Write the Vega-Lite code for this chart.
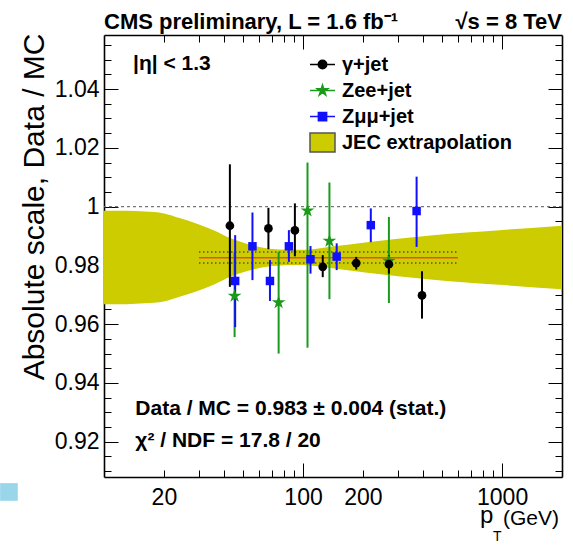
{
  "$schema": "https://vega.github.io/schema/vega-lite/v6.json",
  "width": 458,
  "height": 442,
  "autosize": {"type": "none"},
  "padding": {"left": 104, "top": 35, "right": 11, "bottom": 69},
  "background": "white",
  "config": {
    "view": {"stroke": null},
    "font": "Liberation Sans",
    "axis": {"grid": false, "domain": false, "labelFont": "Liberation Sans", "labelFontSize": 23, "labelColor": "#000", "tickColor": "#000", "tickWidth": 1, "titleColor": "#000", "zindex": 1, "labelOverlap": false, "labelFlush": false, "domainColor": "#000", "domainWidth": 1.6}
  },
  "datasets": {
    "pts": [
      {"series": "Zee+jet", "pt": 45.3, "v": 0.9696, "lo": 0.9556, "hi": 0.9846},
      {"series": "Zee+jet", "pt": 75.4, "v": 0.9674, "lo": 0.95, "hi": 0.9846},
      {"series": "Zee+jet", "pt": 105.3, "v": 0.9986, "lo": 0.952, "hi": 1.015},
      {"series": "Zee+jet", "pt": 135.7, "v": 0.9883, "lo": 0.9685, "hi": 1.0082},
      {"series": "Zee+jet", "pt": 270, "v": 0.9815, "lo": 0.9672, "hi": 0.9965},
      {"series": "Zμμ+jet", "pt": 45.6, "v": 0.9747, "lo": 0.959, "hi": 0.9903},
      {"series": "Zμμ+jet", "pt": 55.7, "v": 0.9865, "lo": 0.975, "hi": 0.998},
      {"series": "Zμμ+jet", "pt": 68.2, "v": 0.9747, "lo": 0.9679, "hi": 0.9818},
      {"series": "Zμμ+jet", "pt": 84.9, "v": 0.9865, "lo": 0.9812, "hi": 0.992},
      {"series": "Zμμ+jet", "pt": 109, "v": 0.9821, "lo": 0.9772, "hi": 0.9866},
      {"series": "Zμμ+jet", "pt": 147.6, "v": 0.983, "lo": 0.9784, "hi": 0.9875},
      {"series": "Zμμ+jet", "pt": 219, "v": 0.9937, "lo": 0.9879, "hi": 0.9994},
      {"series": "Zμμ+jet", "pt": 372, "v": 0.9985, "lo": 0.9863, "hi": 1.0102},
      {"series": "γ+jet", "pt": 42.9, "v": 0.9935, "lo": 0.9727, "hi": 1.0144},
      {"series": "γ+jet", "pt": 67, "v": 0.9926, "lo": 0.9855, "hi": 0.9996},
      {"series": "γ+jet", "pt": 91, "v": 0.9919, "lo": 0.9831, "hi": 1.0011},
      {"series": "γ+jet", "pt": 125.6, "v": 0.9795, "lo": 0.976, "hi": 0.9835},
      {"series": "γ+jet", "pt": 185, "v": 0.9808, "lo": 0.9786, "hi": 0.9829},
      {"series": "γ+jet", "pt": 270, "v": 0.9804, "lo": 0.9772, "hi": 0.9835},
      {"series": "γ+jet", "pt": 396, "v": 0.9698, "lo": 0.9619, "hi": 0.978}
    ],
    "band": [
      {"pt": 10, "lo": 0.9668, "hi": 0.9986},
      {"pt": 13, "lo": 0.9668, "hi": 0.9986},
      {"pt": 16, "lo": 0.9671, "hi": 0.9983},
      {"pt": 20, "lo": 0.9677, "hi": 0.9977},
      {"pt": 24, "lo": 0.9693, "hi": 0.9961},
      {"pt": 30, "lo": 0.9715, "hi": 0.9939},
      {"pt": 36, "lo": 0.9736, "hi": 0.9918},
      {"pt": 43, "lo": 0.9761, "hi": 0.9893},
      {"pt": 52, "lo": 0.978, "hi": 0.9874},
      {"pt": 63, "lo": 0.9794, "hi": 0.986},
      {"pt": 77, "lo": 0.98, "hi": 0.9854},
      {"pt": 95, "lo": 0.9801, "hi": 0.9853},
      {"pt": 115, "lo": 0.9798, "hi": 0.9856},
      {"pt": 140, "lo": 0.979, "hi": 0.9864},
      {"pt": 210, "lo": 0.9775, "hi": 0.9879},
      {"pt": 300, "lo": 0.9763, "hi": 0.9891},
      {"pt": 450, "lo": 0.9751, "hi": 0.9903},
      {"pt": 660, "lo": 0.9742, "hi": 0.9912},
      {"pt": 970, "lo": 0.9734, "hi": 0.992},
      {"pt": 2000, "lo": 0.9719, "hi": 0.9935}
    ]
  },
  "resolve": {"axis": {"x": "independent", "y": "independent"}},
  "layer": [
    {
      "data": {"name": "band"},
      "mark": {"type": "area", "color": "#cccc00", "interpolate": "monotone", "opacity": 1},
      "encoding": {
        "x": {"field": "pt", "type": "quantitative", "scale": {"type": "log", "domain": [10, 2000], "nice": false},
          "axis": {"orient": "bottom", "values": [20, 100, 200, 1000], "ticks": false, "labelPadding": 9, "title": null, "format": "d"}},
        "y": {"field": "lo", "type": "quantitative", "scale": {"domain": [0.908, 1.0584], "nice": false, "zero": false},
          "axis": {"orient": "left", "values": [0.92, 0.94, 0.96, 0.98, 1.0, 1.02, 1.04], "ticks": false, "labelPadding": 5,
            "labelExpr": "format(datum.value, '.2f') === '1.00' ? '1' : format(datum.value, '.2f')",
            "title": "Absolute scale, Data / MC", "titleFontSize": 30, "titleFontWeight": "normal", "titleFont": "Liberation Sans",
            "titleAngle": -90, "titleAlign": "right", "titleBaseline": "alphabetic", "titleX": -61, "titleY": -2}},
        "y2": {"field": "hi"}
      }
    },
    {
      "data": {"values": [{"v": 1}]},
      "mark": {"type": "rule", "color": "#777", "strokeDash": [3, 3], "strokeWidth": 1.2},
      "encoding": {"y": {"field": "v", "type": "quantitative", "axis": null}}
    },
    {
      "data": {"values": [{"a": 30, "b": 600, "v": 0.9846}, {"a": 30, "b": 600, "v": 0.9808}]},
      "mark": {"type": "rule", "color": "#55553a", "strokeDash": [1.5, 2.5], "strokeWidth": 1.5},
      "encoding": {
        "x": {"field": "a", "type": "quantitative", "axis": {"orient": "bottom", "offset": -442, "values": [20, 30, 40, 50, 60, 70, 80, 90, 200, 300, 400, 500, 600, 700, 800, 900], "labels": false, "tickSize": 7, "title": null}},
        "x2": {"field": "b"},
        "y": {"field": "v", "type": "quantitative", "axis": {"orient": "left", "offset": -458, "values": [0.91, 0.915, 0.925, 0.93, 0.935, 0.945, 0.95, 0.955, 0.965, 0.97, 0.975, 0.985, 0.99, 0.995, 1.005, 1.01, 1.015, 1.025, 1.03, 1.035, 1.045, 1.05, 1.055], "labels": false, "tickSize": 7, "title": null}}
      }
    },
    {
      "data": {"values": [{"a": 30, "b": 600, "v": 0.9826}]},
      "mark": {"type": "rule", "color": "#e8501e", "strokeWidth": 1.6},
      "encoding": {
        "x": {"field": "a", "type": "quantitative", "axis": {"orient": "bottom", "offset": -442, "values": [100, 1000], "labels": false, "tickSize": 14, "title": null, "domain": true}},
        "x2": {"field": "b"},
        "y": {"field": "v", "type": "quantitative", "axis": {"orient": "left", "offset": -458, "values": [0.92, 0.94, 0.96, 0.98, 1.0, 1.02, 1.04], "labels": false, "tickSize": 14, "title": null, "domain": true}}
      }
    },
    {
      "data": {"name": "pts"},
      "mark": {"type": "rule", "strokeWidth": 2},
      "encoding": {
        "x": {"field": "pt", "type": "quantitative", "axis": {"orient": "top", "offset": -442, "values": [100, 1000], "labels": false, "tickSize": 14, "title": null, "domain": true}},
        "y": {"field": "lo", "type": "quantitative", "axis": {"orient": "right", "offset": -458, "values": [0.92, 0.94, 0.96, 0.98, 1.0, 1.02, 1.04], "labels": false, "tickSize": 14, "title": null, "domain": true}},
        "y2": {"field": "hi"},
        "color": {"condition": [{"test": "datum.series === 'γ+jet'", "value": "#000000"}, {"test": "datum.series === 'Zee+jet'", "value": "#1a9a1a"}], "value": "#1010ff"}
      }
    },
    {
      "data": {"name": "pts"},
      "transform": [{"filter": "datum.series === 'Zee+jet'"}],
      "mark": {"type": "point", "filled": true, "opacity": 1, "size": 72, "strokeWidth": 0, "color": "#1a9a1a",
        "shape": "M0,-1.7L0.382,-0.525L1.617,-0.525L0.617,0.2L0.999,1.375L0,0.649L-0.999,1.375L-0.617,0.2L-1.617,-0.525L-0.382,-0.525Z"},
      "encoding": {
        "x": {"field": "pt", "type": "quantitative", "axis": {"orient": "top", "offset": -442, "values": [20, 30, 40, 50, 60, 70, 80, 90, 200, 300, 400, 500, 600, 700, 800, 900], "labels": false, "tickSize": 7, "title": null}},
        "y": {"field": "v", "type": "quantitative", "axis": {"orient": "right", "offset": -458, "values": [0.91, 0.915, 0.925, 0.93, 0.935, 0.945, 0.95, 0.955, 0.965, 0.97, 0.975, 0.985, 0.99, 0.995, 1.005, 1.01, 1.015, 1.025, 1.03, 1.035, 1.045, 1.05, 1.055], "labels": false, "tickSize": 7, "title": null}}
      }
    },
    {
      "data": {"name": "pts"},
      "transform": [{"filter": "datum.series === 'Zμμ+jet'"}],
      "mark": {"type": "point", "filled": true, "opacity": 1, "size": 72, "strokeWidth": 0, "color": "#1010ff", "shape": "square"},
      "encoding": {
        "x": {"field": "pt", "type": "quantitative", "axis": null},
        "y": {"field": "v", "type": "quantitative", "axis": null}
      }
    },
    {
      "data": {"name": "pts"},
      "transform": [{"filter": "datum.series === 'γ+jet'"}],
      "mark": {"type": "point", "filled": true, "opacity": 1, "size": 76, "strokeWidth": 0, "shape": "circle", "color": "#000000"},
      "encoding": {
        "x": {"field": "pt", "type": "quantitative", "axis": null},
        "y": {"field": "v", "type": "quantitative", "axis": null}
      }
    },
    {
      "data": {"name": "pts"},
      "transform": [{"filter": "datum.pt < 0"}],
      "mark": {"type": "point", "filled": true, "size": 72},
      "encoding": {
        "x": {"field": "pt", "type": "quantitative", "axis": null},
        "y": {"field": "v", "type": "quantitative", "axis": null},
        "fill": {"field": "series", "type": "nominal",
          "scale": {"domain": ["γ+jet", "Zee+jet", "Zμμ+jet", "JEC extrapolation"], "range": ["#000000", "#1a9a1a", "#1010ff", "#cccc00"]},
          "legend": {"title": null, "orient": "none", "legendX": 205, "legendY": 16, "padding": 0, "offset": 0, "rowPadding": 2, "symbolSize": 625, "labelFont": "Liberation Sans", "labelFontSize": 20, "labelFontWeight": "bold", "labelColor": "#000", "labelOffset": 6, "labelLimit": 400, "symbolStrokeWidth": 1.5, "symbolOpacity": 1}},
        "stroke": {"field": "series", "type": "nominal",
          "scale": {"domain": ["γ+jet", "Zee+jet", "Zμμ+jet", "JEC extrapolation"], "range": ["#000000", "#1a9a1a", "#1010ff", "#555555"]},
          "legend": {"title": null, "orient": "none", "legendX": 205, "legendY": 16, "padding": 0, "offset": 0, "rowPadding": 2, "symbolSize": 625, "labelFont": "Liberation Sans", "labelFontSize": 20, "labelFontWeight": "bold", "labelColor": "#000", "labelOffset": 6, "labelLimit": 400, "symbolStrokeWidth": 1.5, "symbolOpacity": 1}},
        "shape": {"field": "series", "type": "nominal",
          "scale": {"domain": ["γ+jet", "Zee+jet", "Zμμ+jet", "JEC extrapolation"], "range": [
            "M-1,0H1M0.34,0A0.34,0.34,0,1,1,-0.34,0A0.34,0.34,0,1,1,0.34,0Z",
            "M-1,0H1M0,-0.44L0.099,-0.136L0.418,-0.136L0.16,0.052L0.259,0.356L0,0.168L-0.259,0.356L-0.16,0.052L-0.418,-0.136L-0.099,-0.136Z",
            "M-1,0H1M-0.33,-0.33H0.33V0.33H-0.33Z",
            "M-1,-0.76H1V0.76H-1Z"]},
          "legend": {"title": null, "orient": "none", "legendX": 205, "legendY": 16, "padding": 0, "offset": 0, "rowPadding": 2, "symbolSize": 625, "labelFont": "Liberation Sans", "labelFontSize": 20, "labelFontWeight": "bold", "labelColor": "#000", "labelOffset": 6, "labelLimit": 400, "symbolStrokeWidth": 1.5, "symbolOpacity": 1}}
      }
    },
    {
      "data": {"values": [
        {"pt": 14.0, "v": 1.0465, "t": "|η| < 1.3"},
        {"pt": 14.37, "v": 0.9292, "t": "Data / MC = 0.983 ± 0.004 (stat.)"},
        {"pt": 14.37, "v": 0.9182, "t": "χ² / NDF = 17.8 / 20"}
      ]},
      "mark": {"type": "text", "align": "left", "baseline": "alphabetic", "fontSize": 21, "fontWeight": "bold", "font": "Liberation Sans", "color": "#000"},
      "encoding": {
        "x": {"field": "pt", "type": "quantitative", "axis": null},
        "y": {"field": "v", "type": "quantitative", "axis": null},
        "text": {"field": "t"}
      }
    },
    {
      "data": {"values": [{"pt": 10, "v": 1.0605, "t": "CMS preliminary, L = 1.6 fb⁻¹"}]},
      "mark": {"type": "text", "align": "left", "baseline": "alphabetic", "fontSize": 22, "fontWeight": "bold", "font": "Liberation Sans", "color": "#000"},
      "encoding": {
        "x": {"field": "pt", "type": "quantitative", "axis": null},
        "y": {"field": "v", "type": "quantitative", "axis": null},
        "text": {"field": "t"}
      }
    },
    {
      "data": {"values": [{"pt": 2000, "v": 1.0605, "t": "√s = 8 TeV"}]},
      "mark": {"type": "text", "align": "right", "baseline": "alphabetic", "fontSize": 22, "fontWeight": "bold", "font": "Liberation Sans", "color": "#000"},
      "encoding": {
        "x": {"field": "pt", "type": "quantitative", "axis": null},
        "y": {"field": "v", "type": "quantitative", "axis": null},
        "text": {"field": "t"}
      }
    },
    {
      "data": {"values": [{"pt": 2000, "v": 0.908, "t": "(GeV)"}]},
      "mark": {"type": "text", "align": "right", "baseline": "alphabetic", "fontSize": 21, "font": "Liberation Sans", "color": "#000", "dx": -3, "dy": 48},
      "encoding": {
        "x": {"field": "pt", "type": "quantitative", "axis": null},
        "y": {"field": "v", "type": "quantitative", "axis": null},
        "text": {"field": "t"}
      }
    },
    {
      "data": {"values": [{"pt": 2000, "v": 0.908, "t": "p"}]},
      "mark": {"type": "text", "align": "left", "baseline": "alphabetic", "fontSize": 24, "font": "Liberation Sans", "color": "#000", "dx": -82, "dy": 46},
      "encoding": {
        "x": {"field": "pt", "type": "quantitative", "axis": null},
        "y": {"field": "v", "type": "quantitative", "axis": null},
        "text": {"field": "t"}
      }
    },
    {
      "data": {"values": [{"pt": 2000, "v": 0.908, "t": "T"}]},
      "mark": {"type": "text", "align": "left", "baseline": "alphabetic", "fontSize": 14, "font": "Liberation Sans", "color": "#000", "dx": -69, "dy": 64},
      "encoding": {
        "x": {"field": "pt", "type": "quantitative", "axis": null},
        "y": {"field": "v", "type": "quantitative", "axis": null},
        "text": {"field": "t"}
      }
    },
    {
      "data": {"values": [{"pt": 3.33, "v": 0.9029}]},
      "mark": {"type": "point", "shape": "square", "filled": true, "size": 313, "color": "#9ad6ea", "opacity": 1, "strokeWidth": 0},
      "encoding": {
        "x": {"field": "pt", "type": "quantitative", "axis": null},
        "y": {"field": "v", "type": "quantitative", "axis": null}
      }
    }
  ]
}
